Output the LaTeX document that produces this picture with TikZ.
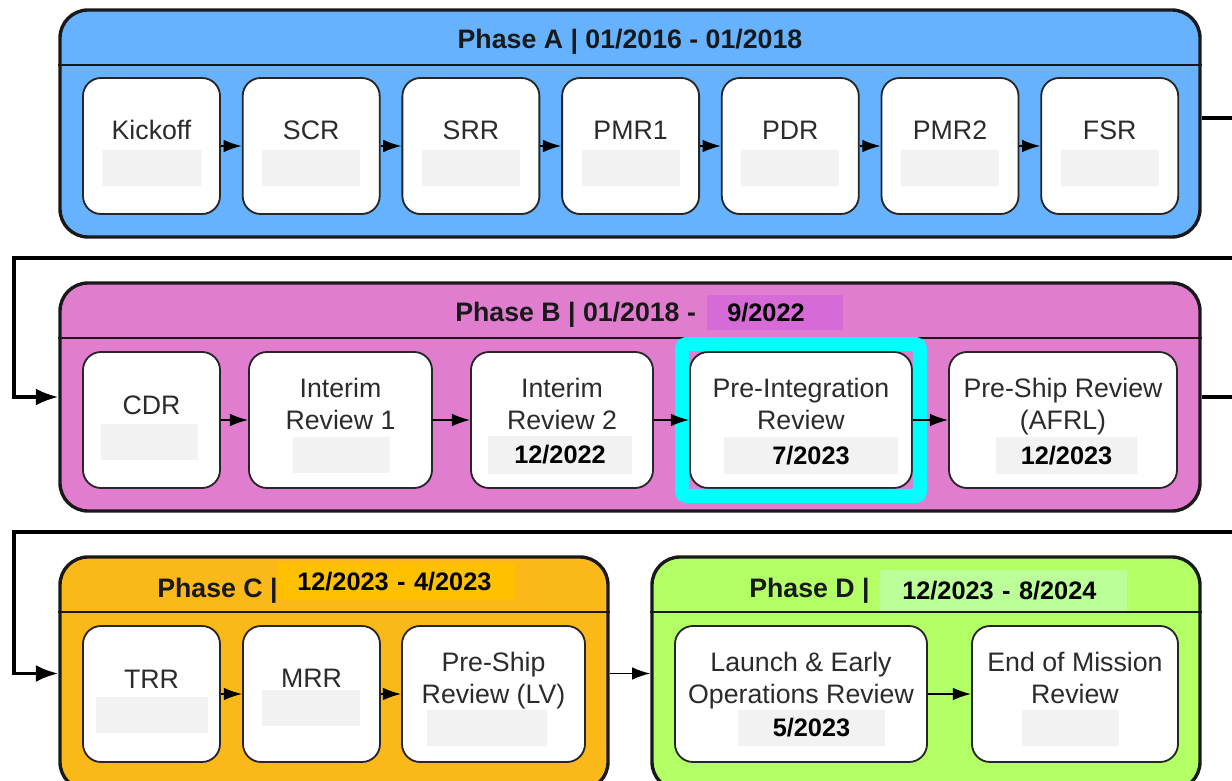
\documentclass[tikz,border=0pt]{standalone}
\usepackage{fontspec}
\setmainfont{Liberation Sans}
\usetikzlibrary{arrows.meta,calc,fit}

\definecolor{phAblue}{HTML}{66B2FF}
\definecolor{phBpink}{HTML}{E07DCF}
\definecolor{phBmark}{HTML}{D66BD7}
\definecolor{phCorange}{HTML}{FBB919}
\definecolor{phCmark}{HTML}{FFC000}
\definecolor{phDgreen}{HTML}{B3FF66}
\definecolor{phDmark}{HTML}{BBFF99}
\definecolor{datefill}{HTML}{F2F2F2}
\definecolor{boxtext}{HTML}{2B2B2B}
\definecolor{markcyan}{HTML}{00FFFF}

% one unit = one pixel of the layout grid
\newcommand{\pix}[1]{#1*0.025cm}

\tikzset{
  phase/.style={draw=black!90, line width=2.4pt, rounded corners=\pix{28}, inner sep=0pt},
  divider/.style={black!90, line width=1.6pt},
  review/.style={draw=black!85, fill=white, line width=1.3pt, rounded corners=\pix{18}, minimum height=\pix{136}, inner sep=0pt},
  revlabel/.style={text=boxtext, font=\fontsize{19}{22.5}\selectfont, align=center, inner sep=0pt},
  datebox/.style={fill=datefill, inner sep=0pt, font=\fontsize{18}{20}\selectfont\bfseries},
  title/.style={text=black!90, font=\fontsize{19}{22}\selectfont\bfseries, inner sep=0pt},
  datemark/.style={inner ysep=0pt, align=left, font=\fontsize{18}{20}\selectfont\bfseries},
  hop/.style={black, line width=1.1pt, -{Latex[length=13pt,width=9pt]}},
  link/.style={black, line width=2.2pt},
  linkin/.style={link, -{Latex[length=16pt,width=12pt]}},
  hilite/.style={draw=markcyan, line width=\pix{14}, inner sep=\pix{7}, rounded corners=\pix{4}}
}

\begin{document}
\begin{tikzpicture}[x=0.025cm, y=-0.025cm]
\useasboundingbox (0,0) rectangle (1232,781);
\clip (0,0) rectangle (1232,781);

% phase frames
\node[phase, fill=phAblue, minimum width=\pix{1140}, minimum height=\pix{227}] (phA) at (630,123.5) {};
\node[phase, fill=phBpink, minimum width=\pix{1140}, minimum height=\pix{228}] (phB) at (630,397) {};
\node[phase, fill=phCorange, minimum width=\pix{548}, minimum height=\pix{233}] (phC) at (334,673.5) {};
\node[phase, fill=phDgreen, minimum width=\pix{548}, minimum height=\pix{233}] (phD) at (926,673.5) {};

% phase headers
\node[title, anchor=base] (phA-title) at (630,48.5) {Phase A | 01/2016 - 01/2018};
\node[title, anchor=base west] (phB-title) at (455,322) {Phase B | 01/2018 -};
\node[datemark, fill=phBmark, anchor=west, minimum height=\pix{35}, text width=\pix{96}, inner xsep=\pix{20}] (phB-end) at (707,312.5) {9/2022};
\node[title, anchor=base west] (phC-title) at (157,597) {Phase C |};
\node[datemark, fill=phCmark, anchor=west, minimum height=\pix{37}, text width=\pix{199}, inner xsep=\pix{19}] (phC-span) at (278,581.5) {12/2023 - 4/2023};
\node[title, anchor=base west] (phD-title) at (749,597) {Phase D |};
\node[datemark, fill=phDmark, anchor=west, minimum height=\pix{42}, text width=\pix{203}, inner xsep=\pix{22}] (phD-span) at (880,591) {12/2023 - 8/2024};

\foreach \ph in {phA,phB,phC,phD}
  \draw[divider] ($(\ph.north west)+(0,57)$) -- ($(\ph.north east)+(0,57)$);

% phase A reviews
\foreach \nm/\lbl [count=\i from 0] in {kick/Kickoff,scr/SCR,srr/SRR,pmra/PMR1,pdr/PDR,pmrb/PMR2,fsr/FSR}{
  \node[review, minimum width=\pix{137}] (\nm) at (151.5+159.7*\i,146) {};
  \node[revlabel, anchor=base] (\nm-lbl) at ($(\nm)+(0,-6)$) {\lbl};
  \node[datebox, minimum width=\pix{98}, minimum height=\pix{36}] (\nm-date) at ($(\nm)+(0,22)$) {};
}
\foreach \a/\b in {kick/scr,scr/srr,srr/pmra,pmra/pdr,pdr/pmrb,pmrb/fsr}
  \draw[hop] (\a) -- (\b);

% phase B reviews (two-line labels sit on their last baseline)
\node[review, minimum width=\pix{137}] (cdr) at (151.5,420) {};
\node[revlabel, anchor=base] (cdr-lbl) at (151.5,414) {CDR};
\node[datebox, minimum width=\pix{97}, minimum height=\pix{36}] (cdr-date) at (149.5,442) {};
\node[review, minimum width=\pix{183}] (ira) at (340.5,420) {};
\node[revlabel, anchor=base] (ira-lbl) at (340.5,429) {Interim\\Review 1};
\node[datebox, minimum width=\pix{97}, minimum height=\pix{36}] (ira-date) at (341.5,455) {};
\node[review, minimum width=\pix{182}] (irb) at (562,420) {};
\node[revlabel, anchor=base] (irb-lbl) at (562,429) {Interim\\Review 2};
\node[datebox, minimum width=\pix{144}, minimum height=\pix{38}] (irb-date) at (560,455) {12/2022};
\node[review, minimum width=\pix{222}] (pir) at (801,420) {};
\node[revlabel, anchor=base] (pir-lbl) at (801,429) {Pre-Integration\\Review};
\node[datebox, minimum width=\pix{174}, minimum height=\pix{37}] (pir-date) at (811,455.5) {7/2023};
\node[review, minimum width=\pix{228}] (psr) at (1063,420) {};
\node[revlabel, anchor=base] (psr-lbl) at (1063,429) {Pre-Ship Review\\(AFRL)};
\node[datebox, minimum width=\pix{141}, minimum height=\pix{37}] (psr-date) at (1066.5,455.5) {12/2023};
\node[hilite, fit=(pir)] (pir-mark) {};
\foreach \a/\b in {cdr/ira,ira/irb,irb/pir,pir/psr}
  \draw[hop] (\a) -- (\b);

% phase C reviews
\node[review, minimum width=\pix{137}] (trr) at (151.5,694) {};
\node[revlabel, anchor=base] (trr-lbl) at (151.5,688) {TRR};
\node[datebox, minimum width=\pix{112}, minimum height=\pix{36}] (trr-date) at (152,715) {};
\node[review, minimum width=\pix{137}] (mrr) at (311.5,694) {};
\node[revlabel, anchor=base] (mrr-lbl) at (311.5,687) {MRR};
\node[datebox, minimum width=\pix{98}, minimum height=\pix{36}] (mrr-date) at (311,708) {};
\node[review, minimum width=\pix{183}] (lv) at (493.5,694) {};
\node[revlabel, anchor=base] (lv-lbl) at (493.5,703) {Pre-Ship\\Review (LV)};
\node[datebox, minimum width=\pix{120}, minimum height=\pix{36}] (lv-date) at (487,728) {};
\foreach \a/\b in {trr/mrr,mrr/lv}
  \draw[hop] (\a) -- (\b);

% phase D reviews
\node[review, minimum width=\pix{252}] (leor) at (801,694) {};
\node[revlabel, anchor=base] (leor-lbl) at (801,703) {Launch \& Early\\Operations Review};
\node[datebox, minimum width=\pix{147}, minimum height=\pix{36}] (leor-date) at (811.5,728) {5/2023};
\node[review, minimum width=\pix{206}] (eom) at (1075,694) {};
\node[revlabel, anchor=base] (eom-lbl) at (1075,703) {End of Mission\\Review};
\node[datebox, minimum width=\pix{97}, minimum height=\pix{36}] (eom-date) at (1070.5,728) {};
\draw[hop] (leor) -- (eom);

% links between phases
\coordinate (outA) at (1240,118);
\coordinate (retA) at (1240,258);
\coordinate (bendA) at (14,258);
\coordinate (retB) at (1240,532);
\coordinate (bendB) at (14,532);
\draw[link] (phA.east |- outA) -- (outA);
\draw[linkin] (retA) -- (bendA) |- (phB.west);
\draw[link] (phB.east) -- ++(40,0);
\draw[linkin] (retB) -- (bendB) |- (phC.west);
\draw[hop] (phC) -- (phD);
\end{tikzpicture}
\end{document}
